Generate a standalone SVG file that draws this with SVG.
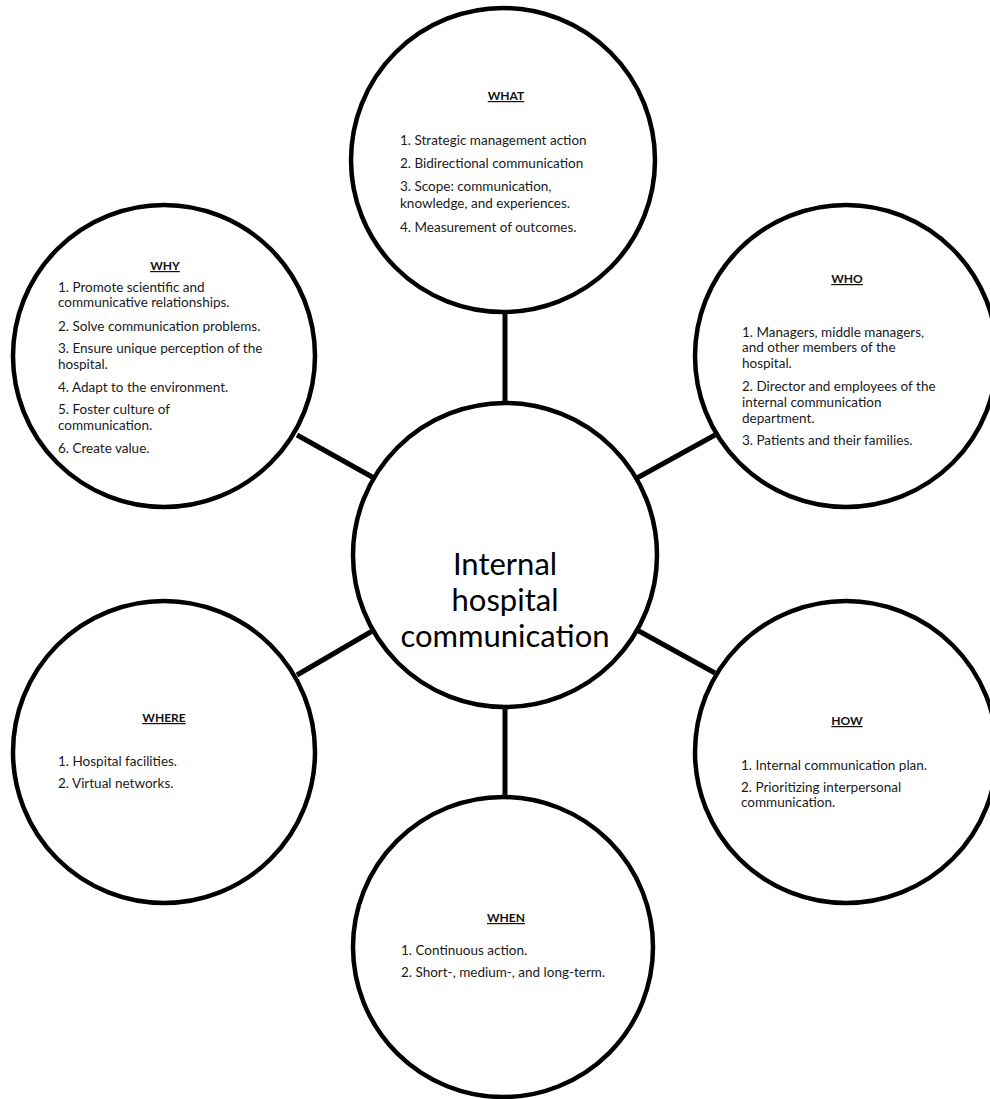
<svg xmlns="http://www.w3.org/2000/svg" width="990" height="1099" viewBox="0 0 990 1099">
<style>
.node{fill:#fff;stroke:#000;stroke-width:4.5}
.conn{stroke:#000;stroke-width:5;fill:none}
.h{font-family:Lato,"Liberation Sans",sans-serif;font-size:12px;font-weight:bold;fill:#111;text-anchor:middle;text-decoration:underline}
.t{font-family:Lato,"Liberation Sans",sans-serif;font-size:13.5px;fill:#1a1a1a}
.c{font-family:Lato,"Liberation Sans",sans-serif;font-size:31px;fill:#000;text-anchor:middle}
</style>
<rect width="990" height="1099" fill="#fff"/>
<g id="connectors">
<line class="conn" x1="505" y1="311" x2="505" y2="404"/>
<line class="conn" x1="505" y1="706" x2="505" y2="798"/>
<line class="conn" x1="297" y1="435" x2="374" y2="478"/>
<line class="conn" x1="715" y1="435" x2="637" y2="478"/>
<line class="conn" x1="297" y1="675" x2="374" y2="630"/>
<line class="conn" x1="715" y1="673" x2="637" y2="630"/>
</g>
<g id="center">
<circle class="node" cx="505" cy="555" r="152"/>
<text class="c" x="505" y="575">Internal</text>
<text class="c" x="505" y="611">hospital</text>
<text class="c" x="505" y="647">communication</text>
</g>
<g id="what">
<circle class="node" cx="503" cy="160" r="152"/>
<text class="h" x="506" y="100">WHAT</text>
<text class="t" x="400" y="145">1. Strategic management action</text>
<text class="t" x="400" y="168">2. Bidirectional communication</text>
<text class="t" x="400" y="191">3. Scope: communication,</text>
<text class="t" x="400" y="208">knowledge, and experiences.</text>
<text class="t" x="400" y="232">4. Measurement of outcomes.</text>
</g>
<g id="why">
<circle class="node" cx="164" cy="356" r="151"/>
<text class="h" x="165" y="270">WHY</text>
<text class="t" x="58" y="292">1. Promote scientific and</text>
<text class="t" x="58" y="307">communicative relationships.</text>
<text class="t" x="58" y="331">2. Solve communication problems.</text>
<text class="t" x="58" y="353">3. Ensure unique perception of the</text>
<text class="t" x="58" y="369">hospital.</text>
<text class="t" x="58" y="392">4. Adapt to the environment.</text>
<text class="t" x="58" y="414">5. Foster culture of</text>
<text class="t" x="58" y="430">communication.</text>
<text class="t" x="58" y="453">6. Create value.</text>
</g>
<g id="who">
<circle class="node" cx="846" cy="356" r="151"/>
<text class="h" x="847" y="283">WHO</text>
<text class="t" x="742" y="337">1. Managers, middle managers,</text>
<text class="t" x="742" y="352">and other members of the</text>
<text class="t" x="742" y="368">hospital.</text>
<text class="t" x="742" y="391">2. Director and employees of the</text>
<text class="t" x="742" y="407">internal communication</text>
<text class="t" x="742" y="423">department.</text>
<text class="t" x="742" y="445">3. Patients and their families.</text>
</g>
<g id="where">
<circle class="node" cx="164" cy="752" r="151"/>
<text class="h" x="164" y="722">WHERE</text>
<text class="t" x="58" y="766">1. Hospital facilities.</text>
<text class="t" x="58" y="788">2. Virtual networks.</text>
</g>
<g id="how">
<circle class="node" cx="846" cy="752" r="151"/>
<text class="h" x="847" y="725">HOW</text>
<text class="t" x="741" y="770">1. Internal communication plan.</text>
<text class="t" x="741" y="792">2. Prioritizing interpersonal</text>
<text class="t" x="741" y="807">communication.</text>
</g>
<g id="when">
<circle class="node" cx="503" cy="947" r="150"/>
<text class="h" x="506" y="922">WHEN</text>
<text class="t" x="401" y="955">1. Continuous action.</text>
<text class="t" x="401" y="977">2. Short-, medium-, and long-term.</text>
</g>
</svg>
